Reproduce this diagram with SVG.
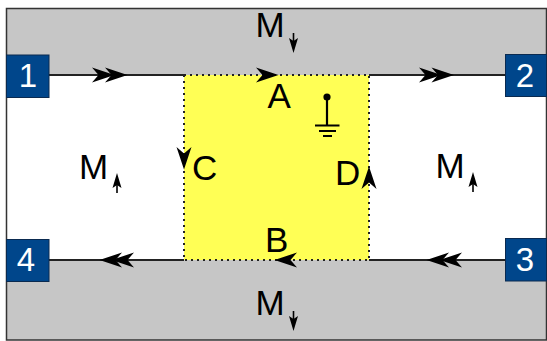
<svg xmlns="http://www.w3.org/2000/svg" width="547" height="341" viewBox="0 0 547 341">
<style>
text{font-family:"Liberation Sans",Arial,sans-serif;fill:#000}
.l{font-size:35px}
.n{font-size:33px;fill:#fff;text-anchor:middle}
.box{fill:#00468b;stroke:#0a2a50;stroke-width:1}
.edge{fill:none;stroke:#222;stroke-width:2}
.dot{fill:none;stroke:#222;stroke-width:2;stroke-dasharray:2 4}
.small{fill:none;stroke:#000;stroke-width:1.6}
</style>
<defs>
<path id="a" d="M-11-7.500 L11.500 0 L-11 7.500 L-4.500 0Z" fill="#000"/>
<path id="s" d="M-8-4.500 L7 0 L-8 4.500 L-5 0Z" fill="#000"/>
</defs>
<rect width="547" height="341" fill="#fff"/>
<rect id="top-band" x="6.500" y="8.500" width="540" height="66.500" fill="#c6c6c6"/>
<rect id="bottom-band" x="6.500" y="260" width="540" height="80" fill="#c6c6c6"/>
<rect id="center" x="184" y="75" width="185" height="185" fill="#ffff55"/>
<rect id="frame" x="6.500" y="8.500" width="540" height="331.500" fill="none" stroke="#333" stroke-width="1.500"/>
<g id="connectors">
<path class="edge" d="M49 75H184M369 75H505M505 260H369M184 260H49"/>
<path class="dot" d="M184 75H369V260H184Z"/>
<use href="#a" x="103" y="75"/><use href="#a" x="116" y="75"/>
<use href="#a" x="267" y="75"/>
<use href="#a" x="430" y="75"/><use href="#a" x="442.500" y="75"/>
<use href="#a" transform="translate(111 260) rotate(180)"/><use href="#a" transform="translate(123 260) rotate(180)"/>
<use href="#a" transform="translate(286 260) rotate(180)"/>
<use href="#a" transform="translate(438 260) rotate(180)"/><use href="#a" transform="translate(451 260) rotate(180)"/>
<use href="#a" transform="translate(184 158) rotate(90)"/>
<use href="#a" transform="translate(369 178) rotate(-90)"/>
</g>
<g id="ground" class="small" style="stroke-width:2.200">
<circle cx="327" cy="97" r="2.500" fill="#000"/>
<path d="M327 97V125.500M315 125.500H339.500M319 131H336M323 136H332"/>
</g>
<g id="node-1"><rect class="box" x="6.500" y="55" width="42.500" height="42.500"/><text class="n" x="28" y="87">1</text></g>
<g id="node-2"><rect class="box" x="505.500" y="54.500" width="41" height="42"/><text class="n" x="525" y="87">2</text></g>
<g id="node-3"><rect class="box" x="505.500" y="238.500" width="41" height="42.500"/><text class="n" x="525" y="271">3</text></g>
<g id="node-4"><rect class="box" x="6.500" y="239.500" width="42.500" height="42"/><text class="n" x="26" y="271">4</text></g>
<g id="labels">
<text class="l" x="255.500" y="37">M</text>
<text class="l" x="255.500" y="315">M</text>
<text class="l" x="79" y="179">M</text>
<text class="l" x="435.500" y="178">M</text>
<text class="l" x="267.500" y="108">A</text>
<text class="l" x="265" y="251.500">B</text>
<text class="l" x="192" y="180">C</text>
<text class="l" x="335" y="185">D</text>
</g>
<g id="moment-arrows">
<path class="small" d="M293.500 33V48"/><use href="#s" transform="translate(293.500 46) rotate(90)"/>
<path class="small" d="M293.500 311V326"/><use href="#s" transform="translate(293.500 324) rotate(90)"/>
<path class="small" d="M117 193V178"/><use href="#s" transform="translate(117 180) rotate(-90)"/>
<path class="small" d="M473 192V177"/><use href="#s" transform="translate(473 179) rotate(-90)"/>
</g>
</svg>
